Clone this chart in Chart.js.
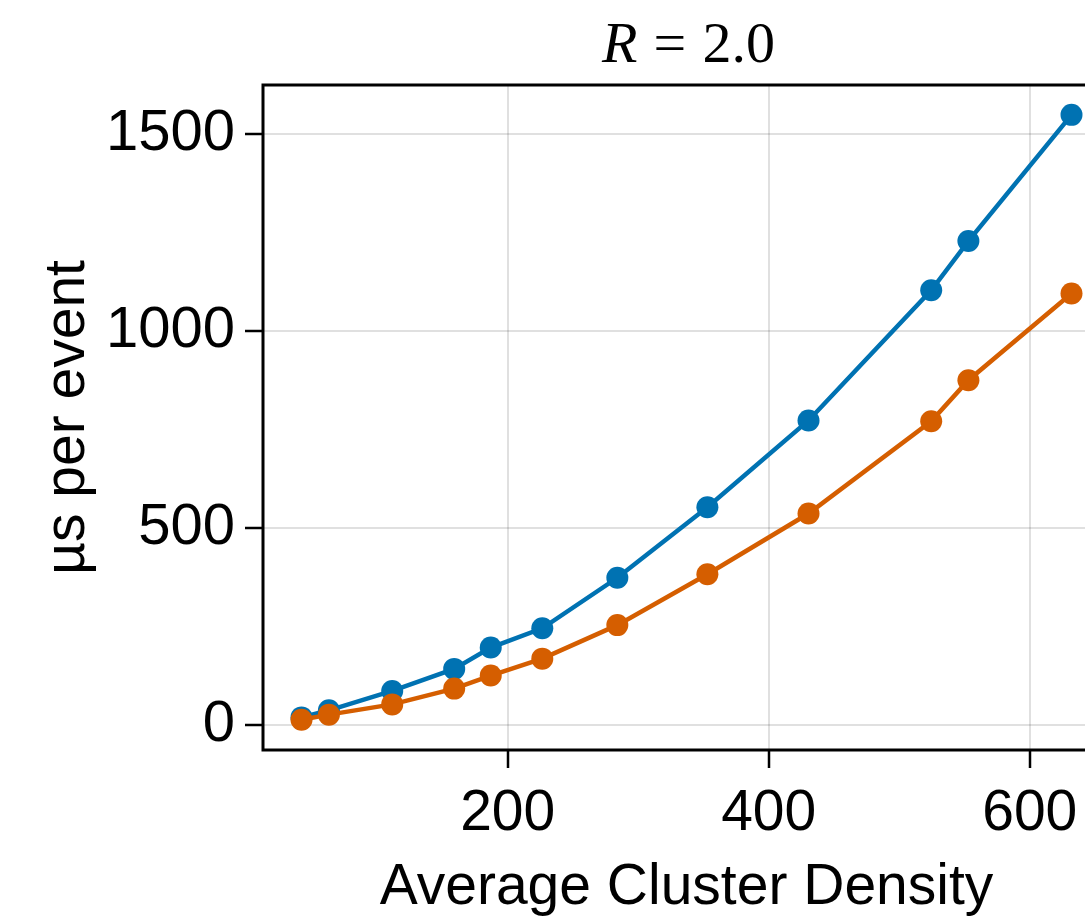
<!DOCTYPE html>
<html>
<head>
<meta charset="utf-8">
<script src="https://cdn.jsdelivr.net/npm/chart.js@4/dist/chart.umd.min.js"></script>
<style>
  html, body { margin: 0; padding: 0; background: #fff; overflow: hidden; }
  #wrap { position: relative; width: 1125px; height: 922px; }
</style>
</head>
<body>
<div id="wrap"><canvas id="chart"></canvas></div>
<script>
  var densities = [42, 63, 111.5, 159, 187, 226.5, 284, 353, 430.5, 524.5, 553, 632];
  var blueSeries = [20, 38, 87, 143, 197, 246, 374, 553, 773, 1103, 1228, 1548];
  var orangeSeries = [14, 27, 53, 93, 126, 169, 254, 383, 537, 771, 875, 1095];
  var xTicks = [200, 400, 600];
  var yTicks = [0, 500, 1000, 1500];

  var BLUE = '#0072B2';
  var ORANGE = '#D55E00';
  var SANS = '"Liberation Sans", Arial, sans-serif';

  function pairs(xs, ys) {
    return xs.map(function (x, i) { return { x: x, y: ys[i] }; });
  }

  var framePlugin = {
    id: 'frame',
    afterDatasetsDraw: function (chart) {
      var a = chart.chartArea;
      var ctx = chart.ctx;
      ctx.save();
      ctx.strokeStyle = '#000';
      ctx.lineWidth = 3;
      ctx.strokeRect(a.left, a.top, a.right - a.left, a.bottom - a.top);
      ctx.restore();
    },
    afterDraw: function (chart) {
      // title: italic R, upright "= 2.0"
      var a = chart.chartArea;
      var ctx = chart.ctx;
      var size = 58;
      var italic = 'italic ' + size + 'px "Liberation Serif", serif';
      var upright = size + 'px "Liberation Serif", serif';
      var gap = size * 0.278;
      ctx.save();
      ctx.fillStyle = '#000';
      ctx.textBaseline = 'alphabetic';
      ctx.font = italic;
      var wR = ctx.measureText('R').width;
      ctx.font = upright;
      var wEq = ctx.measureText('=').width;
      var wNum = ctx.measureText('2.0').width;
      var total = wR + gap + wEq + gap + wNum;
      var x = (a.left + a.right) / 2 - total / 2 + 2;
      var y = 62;
      ctx.font = italic;
      ctx.fillText('R', x, y);
      x += wR + gap;
      ctx.font = upright;
      ctx.fillText('=', x, y);
      x += wEq + gap;
      ctx.fillText('2.0', x, y);
      ctx.restore();
    }
  };

  new Chart(document.getElementById('chart'), {
    type: 'line',
    data: {
      datasets: [{
        data: pairs(densities, orangeSeries),
        borderColor: ORANGE,
        backgroundColor: ORANGE,
        borderWidth: 4.5,
        pointRadius: 11,
        pointBorderWidth: 0,
        pointBackgroundColor: ORANGE,
        tension: 0,
        fill: false,
        order: 0
      }, {
        data: pairs(densities, blueSeries),
        borderColor: BLUE,
        backgroundColor: BLUE,
        borderWidth: 4.5,
        pointRadius: 11,
        pointBorderWidth: 0,
        pointBackgroundColor: BLUE,
        tension: 0,
        fill: false,
        order: 1
      }]
    },
    options: {
      responsive: true,
      maintainAspectRatio: false,
      animation: false,
      layout: { padding: { top: 85, right: 15, bottom: 0, left: 0 } },
      plugins: { legend: { display: false }, tooltip: { enabled: false }, title: { display: false } },
      scales: {
        x: {
          type: 'linear',
          min: 12.5,
          max: 661.5,
          afterBuildTicks: function (scale) {
            scale.ticks = xTicks.map(function (v) { return { value: v }; });
          },
          afterFit: function (scale) { scale.height = 172; },
          border: { display: false },
          grid: {
            color: 'rgba(0,0,0,0.12)',
            lineWidth: 2,
            drawTicks: true,
            tickLength: 18,
            tickColor: '#000',
            tickWidth: 2.5
          },
          ticks: {
            color: '#000',
            font: { family: SANS, size: 57 },
            padding: 12,
            maxRotation: 0,
            callback: function (v) { return String(v); }
          },
          title: {
            display: true,
            text: 'Average Cluster Density',
            color: '#000',
            font: { family: SANS, size: 57 },
            padding: { top: 0, bottom: 0 }
          }
        },
        y: {
          type: 'linear',
          min: -62.7,
          max: 1623.7,
          afterBuildTicks: function (scale) {
            scale.ticks = yTicks.map(function (v) { return { value: v }; });
          },
          afterFit: function (scale) { scale.width = 263; },
          border: { display: false },
          grid: {
            color: 'rgba(0,0,0,0.12)',
            lineWidth: 2,
            drawTicks: true,
            tickLength: 18,
            tickColor: '#000',
            tickWidth: 2.5
          },
          ticks: {
            color: '#000',
            font: { family: SANS, size: 58 },
            padding: 10,
            callback: function (v) { return String(v); }
          },
          title: {
            display: true,
            text: 'µs per event',
            color: '#000',
            font: { family: SANS, size: 57 },
            padding: { top: 34, bottom: 0 }
          }
        }
      }
    },
    plugins: [framePlugin]
  });
</script>
</body>
</html>
